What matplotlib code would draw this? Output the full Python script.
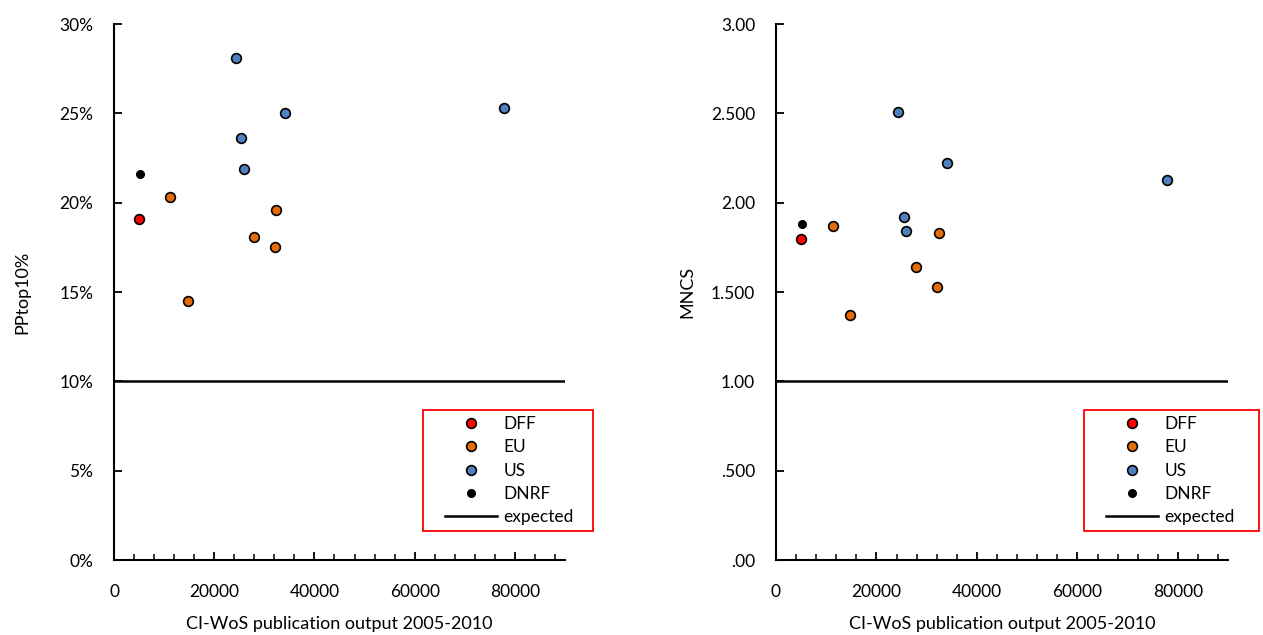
import matplotlib.pyplot as plt
from matplotlib.ticker import MultipleLocator, FixedLocator
from matplotlib.patches import Rectangle

plt.rcParams['font.family'] = ['Lato', 'DejaVu Sans']

# publication output (x) and indicator values
dff_x = [4900]
dff_pp = [19.1]
dff_mncs = [1.80]

eu_x = [11250, 32400, 27950, 32100, 14750]
eu_pp = [20.3, 19.6, 18.1, 17.5, 14.5]
eu_mncs = [1.87, 1.83, 1.64, 1.53, 1.37]

us_x = [24300, 34100, 77800, 25400, 25850]
us_pp = [28.1, 25.0, 25.3, 23.6, 21.9]
us_mncs = [2.51, 2.22, 2.13, 1.92, 1.84]

dnrf_x = [5100]
dnrf_pp = [21.6]
dnrf_mncs = [1.88]

expected_pp = 10
expected_mncs = 1.0

pp_ticks = [0, 5, 10, 15, 20, 25, 30]
pp_labels = ['0%', '5%', '10%', '15%', '20%', '25%', '30%']
mncs_ticks = [0, 0.5, 1.0, 1.5, 2.0, 2.5, 3.0]
mncs_labels = ['.00', '.500', '1.00', '1.500', '2.00', '2.500', '3.00']

colors = {'DFF': '#FF0000', 'EU': '#E46C0A', 'US': '#4F81BD'}


def draw_panel(ax, y_dff, y_eu, y_us, y_dnrf, expected, ymax, ticks, labels, ylabel, ypad):
    ax.plot(dff_x, y_dff, 'o', color=colors['DFF'], mec='black', mew=1.2, ms=7, label='DFF', zorder=3)
    ax.plot(eu_x, y_eu, 'o', color=colors['EU'], mec='black', mew=1.2, ms=7, label='EU', zorder=3)
    ax.plot(us_x, y_us, 'o', color=colors['US'], mec='black', mew=1.2, ms=7, label='US', zorder=3)
    ax.plot(dnrf_x, y_dnrf, 'o', color='black', ms=5.5, label='DNRF', zorder=3)
    ax.plot([0, 90000], [expected, expected], color='black', lw=1.8, label='expected', zorder=2)

    ax.set_xlim(0, 90000)
    ax.set_ylim(0, ymax)
    ax.xaxis.set_major_locator(MultipleLocator(20000))
    ax.xaxis.set_minor_locator(MultipleLocator(4000))
    ax.yaxis.set_major_locator(FixedLocator(ticks))
    ax.set_yticklabels(labels)
    for s in ['top', 'right']:
        ax.spines[s].set_visible(False)
    for s in ['left', 'bottom']:
        ax.spines[s].set_linewidth(1.5)
    ax.tick_params(which='major', direction='in', length=6, width=1.3, labelsize=12.5)
    ax.tick_params(which='minor', direction='in', length=4, width=1.1)
    ax.tick_params(axis='x', pad=17)
    ax.tick_params(axis='y', pad=15)
    ax.set_xlabel('CI-WoS publication output 2005-2010', fontsize=13, labelpad=12)
    ax.set_ylabel(ylabel, fontsize=13, labelpad=ypad)


fig = plt.figure(figsize=(12.63, 6.35), dpi=100)
ax1 = fig.add_axes([0.0903, 0.118, 0.357, 0.844])
ax2 = fig.add_axes([0.6144, 0.118, 0.358, 0.844])

draw_panel(ax1, dff_pp, eu_pp, us_pp, dnrf_pp, expected_pp, 30, pp_ticks, pp_labels, 'PPtop10%', 21)
draw_panel(ax2, dff_mncs, eu_mncs, us_mncs, dnrf_mncs, expected_mncs, 3.0, mncs_ticks, mncs_labels, 'MNCS', 11)

# legends without frame, red box drawn separately in figure pixels
W, H = 1263, 635
for ax, box_x0, box_x1 in [(ax1, 423, 593), (ax2, 1084, 1259)]:
    leg = ax.legend(loc='upper left', bbox_to_anchor=((box_x0 + 22) / W, 1 - 416 / H),
                    bbox_transform=fig.transFigure, fontsize=12.5, frameon=False,
                    handlelength=3.0, handletextpad=0.35, labelspacing=0.42,
                    borderpad=0, borderaxespad=0)
    leg.set_zorder(5)
    fig.patches.append(Rectangle((box_x0 / W, 1 - 531 / H), (box_x1 - box_x0) / W, 121 / H,
                                 transform=fig.transFigure, fill=False, edgecolor='red',
                                 linewidth=1.3, zorder=6))

fig.savefig('out.png', dpi=100)
